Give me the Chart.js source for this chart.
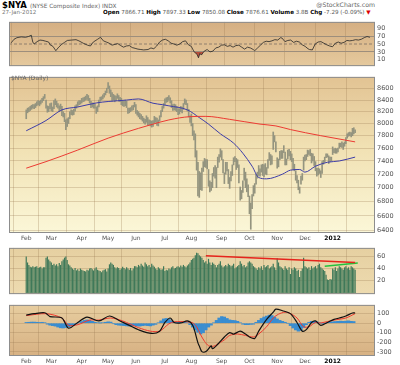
<!DOCTYPE html>
<html>
<head>
<meta charset="utf-8">
<script src="https://cdn.jsdelivr.net/npm/chart.js@4.4.1/dist/chart.umd.min.js"></script>
<style>
  body { margin: 0; background: #fff; width: 400px; height: 365px; overflow: hidden; position: relative; font-family: "DejaVu Sans", sans-serif; }
  canvas { position: absolute; left: 0; }
  .txt { position: absolute; white-space: nowrap; line-height: 1; color: #555; font-size: 5.6px; z-index: 5; }
  .txt b { color: #000; }
</style>
</head>
<body>
<div class="txt" style="left:2px;top:1px;font-size:8.5px;color:#000;font-weight:bold">$NYA <span style="font-weight:normal;font-size:5.8px;color:#666">(NYSE Composite Index) INDX</span></div>
<div class="txt" style="left:2px;top:10px;color:#777">27-Jan-2012</div>
<div class="txt" style="left:103px;top:10px"><b>Open</b> 7866.71 <b>High</b> 7897.33 <b>Low</b> 7850.08 <b>Close</b> 7876.61 <b>Volume</b> 3.8B <b>Chg</b> -7.29 (-0.09%) <span style="color:#d00">&#9660;</span></div>
<div class="txt" style="right:25px;top:2px;font-size:6.2px;color:#666">@StockCharts.com</div>
<div class="txt" style="left:11px;top:75px;font-size:6px;color:#666">$NYA (Daily)</div>

<canvas id="rsiChart" width="400" height="56" style="top:16px"></canvas>
<canvas id="priceChart" width="400" height="171" style="top:71px"></canvas>
<canvas id="volChart" width="400" height="58" style="top:242px"></canvas>
<canvas id="macdChart" width="400" height="66" style="top:299px"></canvas>

<script>
// trading day index of each month start, Feb 2011 .. Jan 2012
const monthStarts = [0, 19, 42, 62, 83, 105, 125, 148, 169, 190, 211, 232];
const monthLabels = ['Feb', 'Mar', 'Apr', 'May', 'Jun', 'Jul', 'Aug', 'Sep', 'Oct', 'Nov', 'Dec', '2012'];

// daily [low, high] of $NYA, one row per month
const priceBars = [
  [8080,8230],[8180,8260],[8200,8270],[8220,8290],[8240,8310],[8260,8320],[8250,8320],[8270,8340],[8300,8370],[8320,8390],[8300,8380],[8330,8400],[8360,8430],[8390,8460],[8430,8500],[8260,8400],[8190,8300],[8200,8290],[8250,8340],
  [8210,8350],[8200,8280],[8250,8390],[8320,8420],[8280,8380],[8260,8340],[8200,8300],[8240,8330],[8130,8290],[8110,8200],[8030,8170],[7900,8060],[7950,8080],[8000,8100],[8080,8200],[8150,8230],[8140,8220],[8150,8240],[8210,8300],[8260,8320],[8290,8370],[8320,8390],[8330,8390],
  [8350,8430],[8370,8440],[8380,8450],[8400,8470],[8410,8500],[8390,8480],[8350,8430],[8270,8380],[8280,8350],[8260,8350],[8260,8330],[8170,8280],[8200,8300],[8280,8400],[8380,8450],[8400,8460],[8420,8490],[8450,8520],[8490,8560],[8530,8610],
  [8600,8710],[8520,8650],[8460,8580],[8380,8530],[8400,8500],[8370,8480],[8390,8470],[8430,8510],[8380,8480],[8370,8450],[8320,8430],[8300,8390],[8290,8380],[8300,8400],[8270,8380],[8170,8260],[8180,8260],[8200,8270],[8220,8300],[8230,8310],[8280,8360],
  [8170,8320],[8140,8220],[8110,8200],[8080,8170],[8070,8150],[8040,8120],[8010,8090],[7990,8070],[8020,8130],[7970,8100],[7980,8060],[7960,8050],[7940,8040],[7950,8050],[8010,8120],[8020,8100],[7970,8090],[7960,8060],[8040,8130],[8110,8220],[8200,8290],[8260,8340],
  [8320,8420],[8360,8440],[8370,8450],[8400,8480],[8350,8440],[8270,8390],[8220,8320],[8230,8330],[8220,8320],[8200,8290],[8150,8250],[8160,8250],[8200,8290],[8180,8280],[8240,8340],[8330,8420],[8320,8400],[8210,8340],[8110,8240],[8020,8130],
  [7960,8160],[7800,8000],[7730,7880],[7460,7830],[7260,7560],[6880,7380],[6860,7240],[6970,7220],[6960,7290],[7240,7390],[7310,7440],[7300,7420],[7280,7420],[7020,7270],[6940,7100],[6960,7080],[7000,7210],[7170,7300],[7140,7330],[7000,7300],[7300,7460],[7380,7500],[7460,7590],
  [7420,7560],[7220,7420],[7060,7220],[7200,7380],[7250,7380],[7060,7270],[6990,7150],[7100,7240],[7180,7340],[7340,7450],[7390,7470],[7270,7440],[7300,7420],[7070,7340],[6820,7010],[6840,6960],[6930,7100],[7110,7290],[7000,7230],[6940,7130],[6870,7040],
  [6630,6880],[6420,6780],[6700,6900],[6880,7030],[6920,7060],[7050,7200],[7140,7230],[7180,7330],[7170,7280],[7230,7340],[7180,7350],[7160,7340],[7200,7360],[7190,7300],[7290,7420],[7410,7530],[7340,7500],[7350,7480],[7580,7860],[7700,7800],[7540,7700],
  [7290,7450],[7310,7430],[7420,7550],[7440,7560],[7440,7560],[7530,7640],[7340,7540],[7340,7430],[7430,7570],[7480,7580],[7420,7550],[7390,7510],[7270,7440],[7250,7350],[7110,7250],[7070,7180],[6970,7110],[6920,7010],[7050,7170],[7110,7210],[7260,7460],
  [7400,7490],[7420,7500],[7470,7570],[7500,7560],[7480,7580],[7370,7520],[7400,7510],[7330,7470],[7250,7390],[7170,7290],[7190,7290],[7210,7280],[7150,7250],[7210,7390],[7350,7410],[7380,7460],[7450,7510],[7460,7510],[7360,7480],[7390,7460],[7400,7460],
  [7500,7620],[7530,7590],[7520,7600],[7520,7590],[7540,7600],[7600,7680],[7620,7680],[7610,7700],[7580,7680],[7630,7700],[7670,7770],[7760,7830],[7790,7850],[7800,7860],[7780,7850],[7800,7920],[7830,7930],[7850,7897]
];
const priceTicks = [6400, 6600, 6800, 7000, 7200, 7400, 7600, 7800, 8000, 8200, 8400, 8600];

// moving averages read at a few days
const ma50Days = [0,15,27,39,53,62,76,85,96,103,108,122,131,138,147,157,164,171,176,182,194,200,207,211,219,228,237,249];
const ma50Values = [7880,8050,8230,8280,8350,8375,8400,8420,8345,8320,8300,8230,8100,7990,7830,7680,7520,7320,7150,7130,7200,7260,7270,7230,7320,7380,7400,7460];
const ma200Days = [0,15,39,62,85,96,108,124,136,154,177,189,200,223,249];
const ma200Values = [7290,7390,7570,7760,7920,7990,8060,8115,8120,8070,7990,7960,7900,7800,7700];

// RSI(14)
const rsiDays = [0,2,4,7,10,12,14,15,16,18,20,22,24,26,27,29,31,33,35,37,39,42,45,47,50,53,55,57,60,62,64,66,68,70,72,74,76,78,80,82,84,86,88,90,92,95,97,99,101,103,105,107,109,111,113,115,117,119,121,123,125,127,129,130,131,132,134,136,138,140,142,144,146,148,150,152,154,156,158,160,162,164,166,168,169,171,173,175,177,179,181,183,185,187,188,190,192,194,196,198,200,202,204,206,207,209,211,213,215,217,219,221,223,225,227,229,231,233,235,237,239,241,243,245,247,249];
const rsiValues = [53,62,66,68,67,69,72,55,50,56,60,59,57,55,48,44,33,42,49,54,59,60,61,58,52,47,45,55,62,67,58,55,52,47,49,51,46,42,45,46,41,39,37,36,35,36,40,38,45,55,60,62,58,52,50,47,50,56,58,48,44,30,24,15,26,22,32,36,30,32,40,42,47,48,44,46,42,46,47,42,37,42,40,36,33,40,47,54,57,56,58,61,60,66,65,56,59,60,54,57,55,48,44,38,36,35,50,55,56,52,48,45,43,52,55,52,54,59,58,59,61,60,62,66,69,67];
const rsiTicks = [10, 30, 50, 70, 90];

// volume, one row per month
const volume = [
  60,50,46,43,42,44,42,43,44,41,42,43,40,42,42,58,60,55,52,
  50,46,48,45,47,44,49,46,52,55,58,60,54,47,45,42,40,38,41,37,39,36,40,
  38,37,36,35,38,37,40,41,39,37,40,42,38,37,36,34,37,38,39,35,
  40,47,50,48,46,42,40,42,41,38,40,43,41,39,42,40,38,41,37,40,44,
  44,42,46,44,48,45,43,50,47,44,46,42,48,45,43,40,38,42,40,38,39,44,
  36,38,37,40,39,42,44,40,41,43,44,42,45,43,46,44,42,45,47,50,
  54,56,58,62,66,65,62,60,58,54,50,52,48,56,50,46,50,48,46,42,46,48,52,
  45,42,44,46,44,48,46,44,45,48,40,42,44,46,52,48,44,46,42,44,50,
  52,50,48,44,42,40,38,42,40,44,38,46,42,44,46,40,42,44,48,42,38,
  57,50,44,42,40,38,44,40,38,42,31,40,38,42,40,36,38,26,36,40,58,
  44,42,40,42,38,44,40,42,44,40,46,48,42,40,38,36,30,22,21,23,22,
  40,38,42,36,40,44,42,40,38,42,44,40,42,38,44,42,40,38
];
const volTicks = [20, 40, 60];
const resistDays = [136, 249];
const resistValues = [61, 50];
const supportDays = [226, 251];
const supportValues = [44, 49];

// MACD(12,26,9)
const macdDays = [0,6,14,18,27,32,39,46,55,63,71,78,85,95,101,105,109,112,117,122,126,130,131,133,136,140,141,145,150,154,157,162,166,169,173,176,182,187,189,194,200,205,209,212,216,219,223,228,233,237,242,247,249];
const macdValues = [85,100,110,70,55,-52,8,64,24,76,24,-22,-68,-107,-83,8,55,8,3,24,-22,-205,-237,-297,-297,-237,-267,-220,-144,-98,-113,-83,-113,-144,-159,-83,40,116,147,131,101,8,-83,-67,8,24,-22,8,40,55,76,107,107];
const signalDays = [0,15,27,32,39,48,55,64,73,85,94,101,108,112,122,126,129,132,135,138,142,147,150,154,160,166,172,176,182,187,191,196,200,205,210,214,219,223,233,242,249];
const signalValues = [80,100,55,-22,-15,33,33,55,24,-46,-83,-83,-6,15,15,5,-37,-120,-190,-235,-240,-200,-174,-128,-113,-128,-144,-113,-37,55,95,116,101,55,-37,-37,8,3,33,55,101];
// histogram read every second day
const histValues = [
  8,10,12,12,10,8,10,6,
  -10,-20,-25,-30,-40,-48,-50,-45,
  -40,-30,-18,-8,
  5,18,30,35,30,
  20,10,5,2,5,10,
  15,12,
  -5,-15,-20,-22,
  -25,-28,-30,-28,-25,-28,-30,-25,-22,-25,-28,-20,-12,
  5,25,45,50,40,25,
  12,8,10,12,10,5,
  -15,-40,-70,-95,
  -113,-100,-70,-40,
  -20,5,30,55,
  70,65,50,35,30,28,20,
  5,-10,-15,-15,-12,-10,
  10,30,50,65,75,85,80,
  65,45,30,20,10,0,
  -25,-50,-70,-83,-75,-45,
  -15,10,20,20,15,5,
  -5,0,8,12,15,
  18,20,22,20,22,25,20,18
];
const macdTicks = [-300, -200, -100, 0, 100];

const FONT = 'DejaVu Sans';
const GRID = 'rgba(150,120,80,0.28)';

const panel = {
  id: 'panel',
  beforeDraw(chart, args, opts) {
    const a = chart.chartArea, c = chart.ctx;
    const g = c.createLinearGradient(0, a.top, 0, a.bottom);
    opts.stops.forEach(s => g.addColorStop(s[0], s[1]));
    c.save();
    c.fillStyle = g;
    c.fillRect(a.left, a.top, a.right - a.left, a.bottom - a.top);
    c.restore();
  },
  afterDraw(chart) {
    const a = chart.chartArea, c = chart.ctx;
    c.save();
    c.strokeStyle = '#8d8d8d';
    c.lineWidth = 1;
    c.strokeRect(a.left + 0.5, a.top + 0.5, a.right - a.left - 1, a.bottom - a.top - 1);
    c.restore();
  }
};

function pts(days, values) {
  return days.map((d, i) => ({x: d, y: values[i]}));
}

function xAxis(showLabels) {
  return {
    type: 'linear', min: -1.5, max: 252.5,
    afterBuildTicks: s => { s.ticks = monthStarts.map(v => ({value: v})); },
    afterFit: s => { s.height = showLabels ? 9 : 0; },
    grid: {color: GRID, drawTicks: false},
    border: {display: false},
    ticks: {
      display: showLabels, padding: 2, maxRotation: 0, autoSkip: false,
      color: ctx => ctx.tick && ctx.tick.value === 232 ? '#000' : '#555',
      font: ctx => ({family: FONT, size: 6, weight: ctx.tick && ctx.tick.value === 232 ? 'bold' : 'normal'}),
      callback: v => monthLabels[monthStarts.indexOf(v)]
    }
  };
}

function yAxis(min, max, ticks, extra) {
  return Object.assign({
    position: 'right', min: min, max: max,
    afterBuildTicks: s => { s.ticks = ticks.map(v => ({value: v})); },
    afterFit: s => { s.width = 25; },
    grid: {color: GRID, drawTicks: false},
    border: {display: false},
    ticks: {padding: 2, color: '#555', font: {family: FONT, size: 6.5}, callback: v => String(v)}
  }, extra || {});
}

function baseOptions(stops, top, xLabels, y) {
  return {
    responsive: false,
    animation: false,
    layout: {padding: {left: 9, right: 0, top: top, bottom: 0}},
    plugins: {legend: {display: false}, tooltip: {enabled: false}, panel: {stops: stops}},
    scales: {x: xAxis(xLabels), y: y}
  };
}

function displayRsi() {
  const rsiPts = pts(rsiDays, rsiValues);
  const y = yAxis(-6, 106, rsiTicks);
  y.grid = {drawTicks: false, color: ctx => (ctx.tick && (ctx.tick.value === 30 || ctx.tick.value === 70)) ? '#9d8e7c' : 'transparent'};
  new Chart(document.getElementById('rsiChart'), {
    type: 'line',
    data: {
      datasets: [
        {data: rsiPts, borderColor: '#262626', borderWidth: 0.8, pointRadius: 0,
         fill: {target: {value: 30}, above: 'transparent', below: 'rgba(170,40,30,0.75)'}},
        {data: rsiPts, borderWidth: 0, pointRadius: 0,
         fill: {target: {value: 70}, above: 'rgba(30,140,110,0.75)', below: 'transparent'}},
        {data: [{x: -1.5, y: 50}, {x: 252.5, y: 50}], borderColor: '#8f7f6c', borderWidth: 1, borderDash: [3, 2], pointRadius: 0}
      ]
    },
    options: baseOptions([[0, '#d5af82'], [1, '#e5c99d']], 1, false, y),
    plugins: [panel]
  });
}

function displayPrice() {
  const y = yAxis(6370, 8815, priceTicks, {type: 'logarithmic'});
  new Chart(document.getElementById('priceChart'), {
    type: 'bar',
    data: {
      datasets: [
        {type: 'line', data: pts(ma200Days, ma200Values), borderColor: '#ec3b33', borderWidth: 1, pointRadius: 0, cubicInterpolationMode: 'monotone'},
        {type: 'line', data: pts(ma50Days, ma50Values), borderColor: '#3d3da8', borderWidth: 1, pointRadius: 0, cubicInterpolationMode: 'monotone'},
        {type: 'bar', data: priceBars.map((b, i) => ({x: i, y: b})), backgroundColor: '#94947f', barThickness: 1, grouped: false}
      ]
    },
    options: baseOptions([[0, '#e2c393'], [0.45, '#f1e1b3'], [1, '#fbf7d8']], 0, true, y),
    plugins: [panel]
  });
}

function displayVolume() {
  new Chart(document.getElementById('volChart'), {
    type: 'bar',
    data: {
      datasets: [
        {type: 'line', data: pts(resistDays, resistValues), borderColor: '#e6241c', borderWidth: 1.5, pointRadius: 0},
        {type: 'line', data: pts(supportDays, supportValues), borderColor: '#25c23c', borderWidth: 1.5, pointRadius: 0},
        {type: 'bar', data: volume.map((v, i) => ({x: i, y: v})), backgroundColor: '#3f7959', barPercentage: 0.9, categoryPercentage: 1, grouped: false}
      ]
    },
    options: baseOptions([[0, '#e6d0a1'], [1, '#eddbb0']], 0, false, yAxis(-2, 74, volTicks)),
    plugins: [panel]
  });
}

function displayMacd() {
  new Chart(document.getElementById('macdChart'), {
    type: 'bar',
    data: {
      datasets: [
        {type: 'line', data: pts(macdDays, macdValues), borderColor: '#111', borderWidth: 1.2, pointRadius: 0, tension: 0.3},
        {type: 'line', data: pts(signalDays, signalValues), borderColor: '#ef3a2e', borderWidth: 1, pointRadius: 0, tension: 0.3},
        {type: 'bar', data: histValues.map((v, i) => ({x: i * 2, y: v})), backgroundColor: '#3a8dd0', barPercentage: 1, categoryPercentage: 1, grouped: false}
      ]
    },
    options: baseOptions([[0, '#e7cd9f'], [1, '#d7b183']], 0, true, yAxis(-343, 192, macdTicks)),
    plugins: [panel]
  });
}

displayRsi();
displayPrice();
displayVolume();
displayMacd();
</script>
</body>
</html>
